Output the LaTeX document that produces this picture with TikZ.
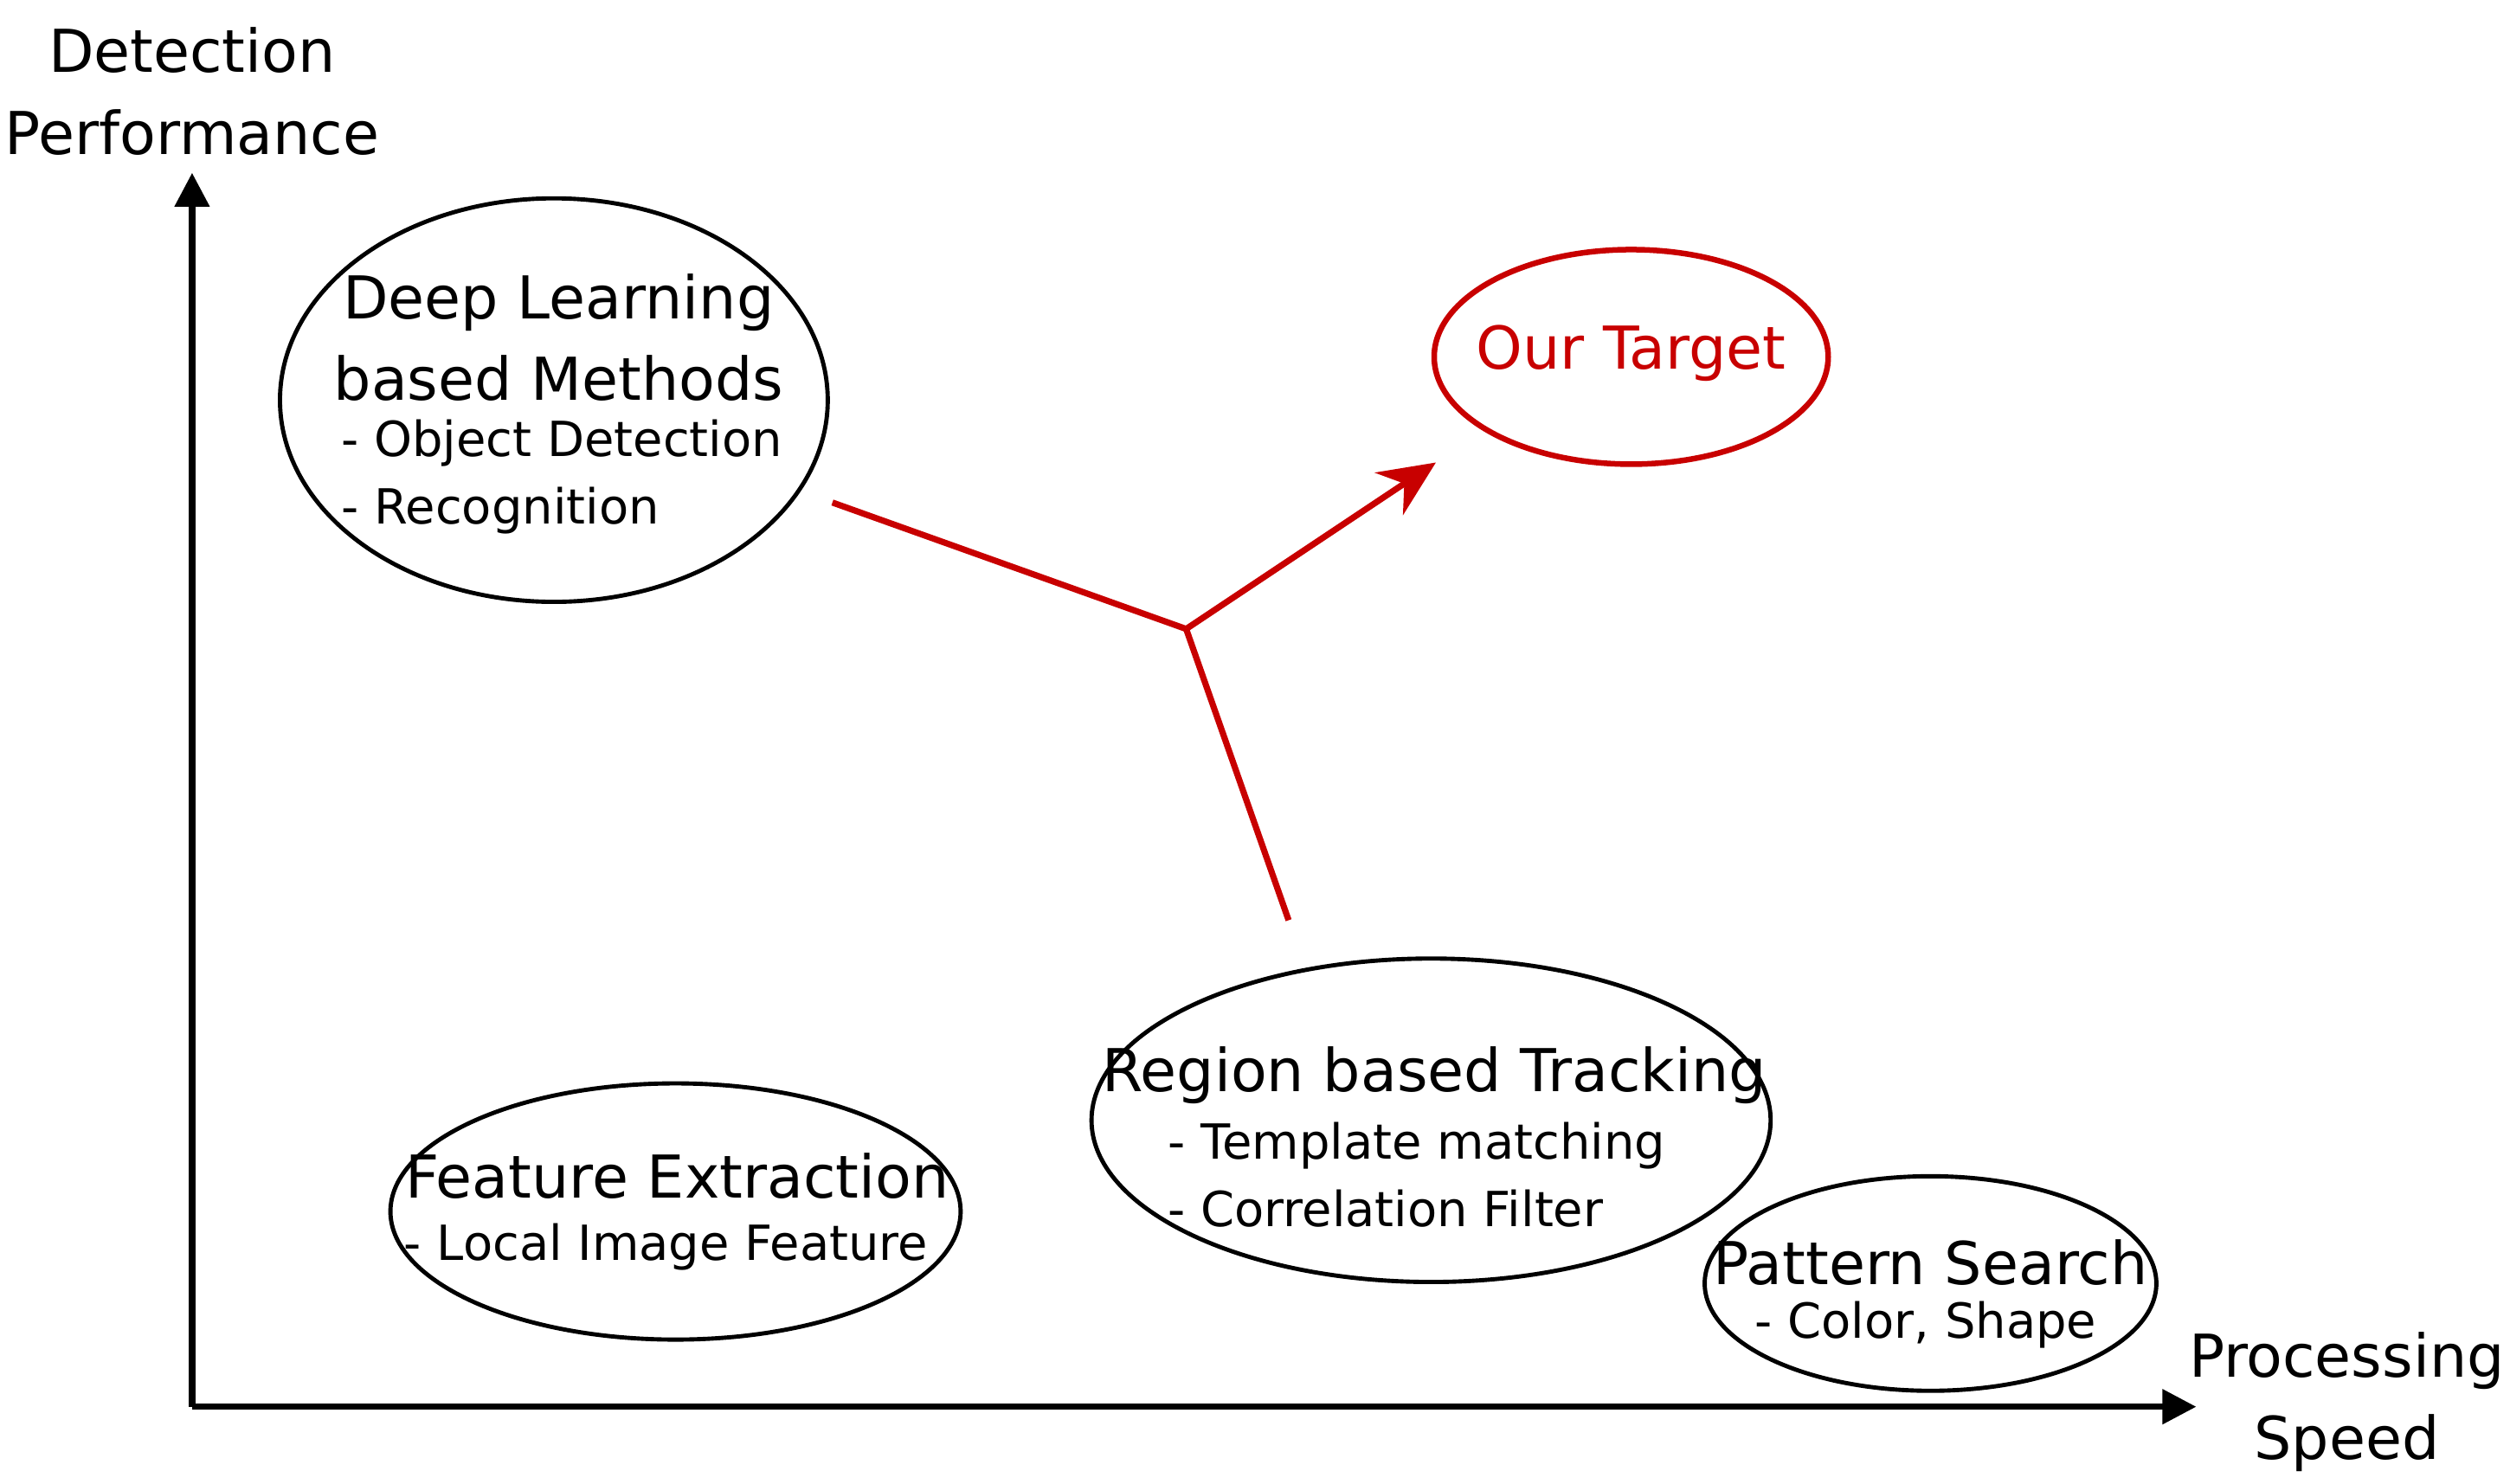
\documentclass[tikz,border=0pt]{standalone}
\usepackage{fontspec}
\setmainfont{DejaVu Sans}
\usetikzlibrary{shapes.geometric,arrows.meta}
\definecolor{tred}{RGB}{200,0,0}
\begin{document}
\begin{tikzpicture}[x=0.01cm,y=-0.01cm,
  ell/.style={draw,ellipse,line width=0.75pt,inner sep=0pt},
  big/.style={font=\fontsize{10.5}{14.5}\selectfont,align=center},
  small/.style={font=\fontsize{8.6}{12}\selectfont,align=left},
  ax/.style={line width=1.1pt,-{Triangle[length=6pt,width=6pt]}},
  rl/.style={tred,line width=1.1pt}]
\useasboundingbox (0,0) rectangle (1568,927);
\coordinate (o) at (120,879);
\coordinate (ytop) at (120,108);
\coordinate (xend) at (1372,879);
\draw[ax] (o) -- (ytop);
\draw[ax] (o) -- (xend);
\node[big] (ylab) at (120,57) {Detection\\Performance};
\node[big] (xlab) at (1466,876) {Processing\\Speed};

\node[ell,minimum width=342\pgflinewidth*0+3.42cm,minimum height=2.52cm] (dl) at (346,250) {};
\node[big] (dlt) at (349,211) {Deep Learning\\based Methods};
\node[small] (dls) at (351,298) {- Object Detection\\- Recognition};

\node[ell,draw=tred,line width=1pt,minimum width=2.46cm,minimum height=1.34cm] (ot) at (1019,223) {};
\node[big,text=tred] (ott) at (1019,221) {Our Target};

\node[ell,minimum width=3.56cm,minimum height=1.6cm] (fe) at (422,757) {};
\node[big] (fet) at (423,735) {Feature Extraction};
\node[small] (fes) at (416,779) {- Local Image Feature};

\node[ell,minimum width=4.24cm,minimum height=2.02cm] (rb) at (894,700) {};
\node[big] (rbt) at (896,672) {Region based Tracking};
\node[small] (rbs) at (885,734) {- Template matching\\- Correlation Filter};

\node[ell,minimum width=2.82cm,minimum height=1.34cm] (ps) at (1206,802) {};
\node[big] (pst) at (1206,789) {Pattern Search};
\node[small] (pss) at (1203,828) {- Color, Shape};

\coordinate (a) at (520,314);
\coordinate (b) at (805,575);
\coordinate (j) at (741,393);
\coordinate (t) at (897,289);
\draw[rl] (a) -- (j);
\draw[rl] (b) -- (j);
\draw[rl,-{Stealth[length=10pt,width=9pt]}] (j) -- (t);
\end{tikzpicture}
\end{document}
